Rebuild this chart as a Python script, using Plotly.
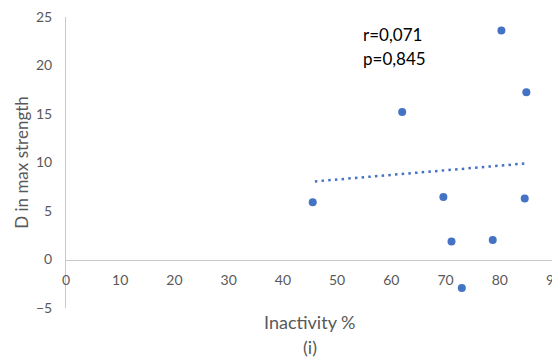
import plotly.graph_objects as go

# valores
inactivity = [45.5, 62.0, 69.6, 71.1, 73.0, 78.7, 80.3, 84.6, 84.9]
d_strength = [5.9, 15.2, 6.45, 1.85, -2.95, 2.0, 23.6, 6.3, 17.25]

# linha de tendência (pontos extremos, como no Excel)
trend_x = [45.9, 85.1]
trend_y = [8.05, 9.92]

x_ticks = [0, 10, 20, 30, 40, 50, 60, 70, 80, 90]
y_ticks = [-5, 0, 5, 10, 15, 20, 25]
stats_text = ["r=0,071", "p=0,845"]

Y_MIN, Y_MAX = -5, 25
GREY = "#595959"
BLUE = "#4472C4"
FONT = "Lato"

fig = go.Figure()
fig.add_trace(go.Scatter(
    x=trend_x, y=trend_y, mode="lines",
    line=dict(color=BLUE, width=2.5, dash="2.5px,4.2px"),
    hoverinfo="skip", showlegend=False
))
fig.add_trace(go.Scatter(
    x=inactivity, y=d_strength, mode="markers",
    marker=dict(color=BLUE, size=8),
    showlegend=False
))

# eixo x cruza o eixo y em 0
zero_pos = (0 - Y_MIN) / (Y_MAX - Y_MIN)

# a página tem 8px de margem no body, por isso as margens descontam isso
fig.update_layout(
    width=560, height=360,
    margin=dict(l=58, r=14, t=9, b=60),
    paper_bgcolor="white", plot_bgcolor="white",
    font=dict(family=FONT, color=GREY, size=13),
    xaxis=dict(
        range=[0, 90], tickvals=x_ticks, showgrid=False, zeroline=False,
        showline=True, linecolor="#c8c8c8", linewidth=1,
        anchor="free", position=zero_pos, ticks="", automargin=False,
        ticklabeloverflow="allow",
        ticklabelstandoff=8, tickfont=dict(size=14, color=GREY)
    ),
    yaxis=dict(
        range=[Y_MIN, Y_MAX], tickvals=y_ticks, showgrid=False, zeroline=False,
        showline=True, linecolor="#c8c8c8", linewidth=1, ticks="", automargin=False,
        ticklabeloverflow="allow",
        ticklabelstandoff=10, tickfont=dict(size=14, color=GREY),
        title=dict(text="D in max strength", font=dict(size=17, color=GREY), standoff=3)
    ),
)

fig.add_annotation(text="Inactivity %", xref="paper", yref="paper",
                   x=0.5, y=-0.048, xanchor="center", yanchor="middle",
                   showarrow=False, font=dict(size=18, color=GREY))
fig.add_annotation(text="(i)", xref="paper", yref="paper",
                   x=0.5, y=-0.135, xanchor="center", yanchor="middle",
                   showarrow=False, font=dict(size=18, color=GREY))

for i, txt in enumerate(stats_text):
    fig.add_annotation(text=txt, xref="paper", yref="paper",
                       x=(360 - 66) / 487, y=(308 - 34 - 24 * i) / 291,
                       xanchor="left", yanchor="middle", showarrow=False,
                       font=dict(size=17, color="black"))

fig.write_html("out.html")
